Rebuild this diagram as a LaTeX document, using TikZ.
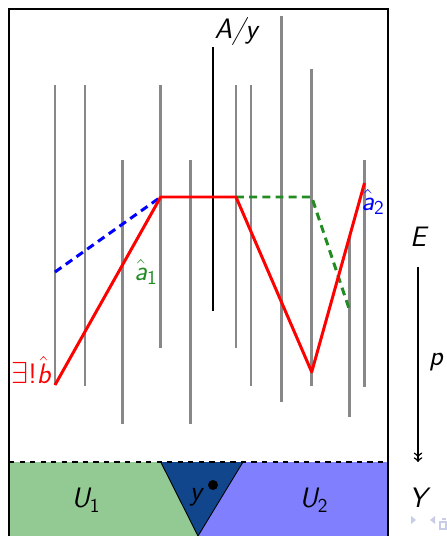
\documentclass[tikz,border=0pt]{standalone}
\usepackage{fontspec}
\begin{document}
\begin{tikzpicture}[x=0.02cm,y=-0.02cm,>=to,font=\sffamily\fontsize{16}{19}\selectfont]
\definecolor{fibgray}{RGB}{136,136,136}
\definecolor{opengreen}{RGB}{147,201,147}
\definecolor{openblue}{RGB}{128,128,255}
\definecolor{nbhdblue}{RGB}{17,70,140}
\definecolor{navgray}{RGB}{200,204,232}
\definecolor{liftgreen}{RGB}{34,139,34}
\tikzset{fiber/.style={fibgray,line width=1.4pt},
  lift/.style={line width=1.7pt,line join=round},
  liftdash/.style={lift,dash pattern=on 4.5pt off 3pt}}
\newcommand{\hatlab}[2]{$\hat{\mbox{\itshape #1}}$\textsubscript{\upshape #2}}
\useasboundingbox (0,0) rectangle (446,536);
% basis Y: U_1, Umgebung von y, U_2
\fill[opengreen] (9,462) -- (160.7,462) -- (198,536) -- (9,536) -- cycle;
\fill[openblue] (243,462) -- (388,462) -- (388,536) -- (198,536) -- cycle;
\fill[nbhdblue] (160.7,462) -- (243,462) -- (198,536) -- cycle;
\draw[line width=0.5pt] (160.7,462) -- (198,536) -- (243,462);
\fill (213,485) circle (5);
\node (ylab) at (196,497) {\itshape y};
\node (U1) at (86,500) {\itshape U\textsubscript{\upshape 1}};
\node (U2) at (314,500) {\itshape U\textsubscript{\upshape 2}};
% rahmen fuer E
\draw[line width=0.85pt] (9,540) -- (9,9) -- (388,9) -- (388,540);
\draw[line width=0.85pt,dashed] (9,462) -- (388,462);
% fasern
\foreach \x/\a/\b in {55/85/385,85/85/386,122.7/160/424,160.7/85/348,190.7/160/424,
  236/85/348,251/85/386,281.7/16/402,311.7/69/386,349.5/237/417,364.5/160/387}
  \draw[fiber] (\x,\a) -- (\x,\b);
\draw[line width=1.7pt] (213,47) -- (213,311);
\node (Ay) at (236,31) {\itshape A/y};
% hebungen
\draw[liftdash,blue] (55,272) -- (160.7,197);
\draw[liftdash,liftgreen] (236,197) -- (311.7,197) -- (349.5,310);
\draw[lift,red] (55,385) -- (160.7,197) -- (236,197) -- (311.7,372) -- (364.5,183);
\node[red,inner sep=1pt] (blab) at (31,370) {$\exists$!$\hat{\mbox{\itshape b}}$};
\node[liftgreen] (a1) at (146,272) {\hatlab{a}{1}};
\node[blue] (a2) at (373,202) {\hatlab{a}{2}};
% projektion
\node (E) at (418,237) {\itshape E};
\node (Y) at (418,498) {\itshape Y};
\draw[->>,line width=0.85pt] (418,267) -- (418,462);
\node (p) at (436,362) {\itshape p};
% navigation
\fill[navgray] (411,516) -- (411,524) -- (416,520) -- cycle;
\fill[navgray] (430,520) -- (435,516) -- (435,524) -- cycle;
\draw[navgray,line width=0.8pt] (440,522) rectangle (446,529) (442,519) -- (446,519);
\end{tikzpicture}
\end{document}
